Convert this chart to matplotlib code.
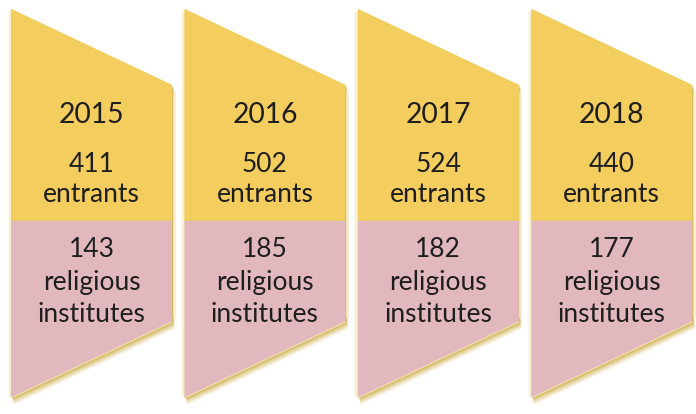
import matplotlib
matplotlib.use("Agg")
import matplotlib.pyplot as plt
from matplotlib.patches import Polygon

years = ["2015", "2016", "2017", "2018"]
entrants = [411, 502, 524, 440]
institutes = [143, 185, 182, 177]

YELLOW = "#F3CD5E"
PINK = "#E2B8BF"
GOLD = "#C49A14"
CREAM = "#F7EDC9"
TXT = "#1E1E1E"

fig = plt.figure(figsize=(6.96, 4.142), dpi=100)
ax = fig.add_axes([0, 0, 1, 1])
ax.set_xlim(0, 696)
ax.set_ylim(414, 0)
ax.axis("off")

x0, step, W = 11, 173.4, 161
Y_TL, Y_TR, Y_BR, Y_BL, Y_SPLIT = 9, 85, 322, 398, 221
FONT = "Lato"
FS_YEAR, FS_BODY = 20.3, 19

for i, (yr, en, ins) in enumerate(zip(years, entrants, institutes)):
    L = x0 + step * i
    R = L + W
    full = [(L, Y_TL), (R, Y_TR), (R, Y_BR), (L, Y_BL)]
    # soft golden shadow below the bottom edge
    for k in range(1, 10):
        sh = [(x + 1.0 + k * 0.2, y + k * 0.85) for x, y in full]
        ax.add_patch(Polygon(sh, closed=True, fc=GOLD, ec="none",
                             alpha=0.2 * (1 - k / 11), zorder=1))
    # cream glow on the vertical edges
    ax.plot([L - 1.5, L - 1.5], [Y_TL + 2, Y_BL - 2], color=CREAM, lw=2.5,
            alpha=0.9, solid_capstyle="butt", zorder=1)
    ax.plot([R + 1.5, R + 1.5], [Y_TR + 6, Y_BR - 4], color=CREAM, lw=2.0,
            alpha=0.8, solid_capstyle="butt", zorder=1)
    ax.add_patch(Polygon([(L, Y_TL), (R, Y_TR), (R, Y_SPLIT), (L, Y_SPLIT)],
                         closed=True, fc=YELLOW, ec="none", zorder=2))
    ax.add_patch(Polygon([(L, Y_SPLIT), (R, Y_SPLIT), (R, Y_BR), (L, Y_BL)],
                         closed=True, fc=PINK, ec="none", zorder=2))
    ax.plot([L, R], [Y_BL, Y_BR], color="#F3E3B0", lw=0.8, zorder=3)
    cx = L + W / 2
    ax.text(cx, 123, yr, ha="center", va="baseline", fontsize=FS_YEAR,
            family=FONT, color=TXT, zorder=4)
    ax.text(cx, 172, str(en), ha="center", va="baseline", fontsize=FS_BODY,
            family=FONT, color=TXT, zorder=4)
    ax.text(cx, 202, "entrants", ha="center", va="baseline", fontsize=FS_BODY,
            family=FONT, color=TXT, zorder=4)
    ax.text(cx, 257, str(ins), ha="center", va="baseline", fontsize=FS_BODY,
            family=FONT, color=TXT, zorder=4)
    ax.text(cx, 290, "religious", ha="center", va="baseline", fontsize=FS_BODY,
            family=FONT, color=TXT, zorder=4)
    ax.text(cx, 322, "institutes", ha="center", va="baseline", fontsize=FS_BODY,
            family=FONT, color=TXT, zorder=4)

fig.savefig("out.png", dpi=100, facecolor="white")
